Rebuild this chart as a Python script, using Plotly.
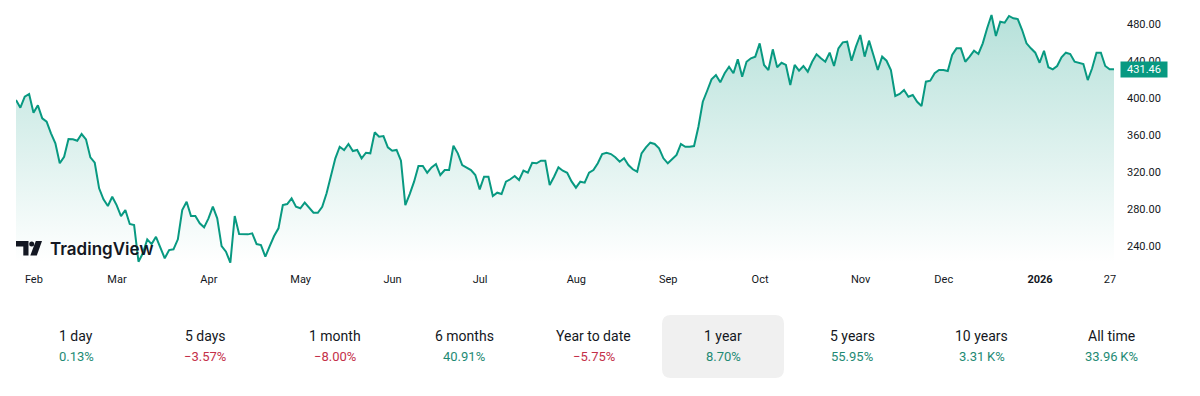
import pandas as pd
import plotly.graph_objects as go

# ---------------- data ----------------
close_jan_mar = [398, 389.8, 401.6, 404.6, 384.3, 392.3, 378.3, 374.6, 362, 351.2,
                 329.6, 336.7, 355.9, 355.5, 354, 361.3, 355.5, 336, 330.2, 302.5,
                 290.6, 283.4, 293.4, 284.4, 272.5, 279, 263.9, 262.8, 223.1, 232.2,
                 247.3, 242.2, 250.1, 237.6, 226.8, 235.7, 236.5, 247.3, 279, 288,
                 272.5, 272.5, 264.6]
close_apr_may = [260.3, 270, 282.6, 270, 240, 233.9, 222, 272.5, 253, 252.7,
                 252.7, 253.8, 242.2, 241.1, 228.5, 240, 250.9, 259.2, 284.4, 285.5,
                 291.7, 282.6, 280.9, 287, 280.9, 276.1, 276.1, 282.6, 297.1, 316.9,
                 335, 347.5, 344, 350.5, 342.9, 344, 335, 341, 340.4, 363.1,
                 358.4, 359.1]
close_jun_jul = [346.9, 343.2, 344, 332.4, 284.4, 296.3, 309.7, 326.7, 326.7, 319.4,
                 325.2, 328.8, 316.9, 322.3, 322.3, 348.6, 340.4, 327.7, 325.2, 322.3,
                 316.9, 301.4, 315.1, 315.1, 294.2, 297.8, 296.3, 309.7, 312.3, 315.8,
                 311.5, 321.6, 319.4, 330.2, 329.6, 332.4, 332.4, 306.1, 315.1, 325.2,
                 321.6, 319.4, 310]
close_aug_sep = [303.2, 309.7, 308.6, 319.4, 322.3, 329.6, 339.6, 341, 339.6, 336.1,
                 331.3, 335, 327.7, 323.1, 320.5, 340.4, 346.9, 351.9, 350.5, 345.8,
                 335, 329.6, 333.9, 338.6, 350.5, 347.5, 347.5, 348.3, 369.2, 396.2,
                 408.1, 420.5, 425.1, 417.2, 427, 434.1, 427, 442.1, 423.3, 439.5,
                 443.2, 445]
close_oct_nov = [459.4, 436, 430.5, 452.9, 433.5, 438.4, 436, 414.3, 436, 429.8,
                 434.9, 428.7, 439.5, 447.5, 443.2, 439.5, 449.3, 434.9, 454, 460.5,
                 461.2, 440.6, 455.8, 468.4, 445, 462.3, 446.8, 430.5, 445, 440.6,
                 430.5, 402.4, 404.6, 408.9, 401.6, 403.5, 396.2, 391.6, 417.9, 419,
                 427]
close_dec_jan = [430.5, 430.5, 429.5, 446.8, 454, 454, 439.5, 445, 451.4, 447.9,
                 459.4, 475.7, 490.1, 467.3, 482.8, 481.7, 489, 486.5, 485.7, 473.8,
                 459.4, 454, 449.3, 438.4, 451.4, 433.5, 431.3, 434.9, 444.3, 449.3,
                 447.9, 439.5, 438.4, 437, 419.7, 432.4, 449.3, 449.3, 434.9, 431.3,
                 431.46]
close = close_jan_mar + close_apr_may + close_jun_jul + close_aug_sep + close_oct_nov + close_dec_jan
last_price = 431.46

market_holidays = ["2025-02-17", "2025-04-18", "2025-05-26", "2025-06-19", "2025-07-04",
                   "2025-09-01", "2025-11-27", "2025-12-25", "2026-01-01", "2026-01-19"]
first_day = "2025-01-27"
last_day = "2026-01-27"

x_tick_labels = ["Feb", "Mar", "Apr", "May", "Jun", "Jul", "Aug", "Sep", "Oct", "Nov", "Dec",
                 "<b>2026</b>", "27"]
y_tick_values = [240, 280, 320, 360, 400, 440, 480]

period_labels = ["1 day", "5 days", "1 month", "6 months", "Year to date",
                 "1 year", "5 years", "10 years", "All time"]
period_changes = ["0.13%", "\u22123.57%", "\u22128.00%", "40.91%", "\u22125.75%",
                  "8.70%", "55.95%", "3.31\u2009K%", "33.96\u2009K%"]
period_up = [True, False, False, True, False, True, True, True, True]
selected_period = "1 year"

# ---------------- build ----------------
dates = pd.bdate_range(first_day, last_day, freq="C", holidays=market_holidays)
x = dates.strftime("%Y-%m-%d").tolist()
s = pd.Series(dates)
month_firsts = s.groupby(s.dt.to_period("M")).first().tolist()[1:]
x_tick_vals = [d.strftime("%Y-%m-%d") for d in month_firsts] + [x[-1]]

GREEN = "#089981"
TEXT = "#131722"
UP_TXT = "#1e8a74"
DN_TXT = "#c43049"
FONT = "Roboto"

W, H = 1200, 396
ML, MR, MT, MB = 16, 86, 0, 133
PW, PH = W - ML - MR, H - MT - MB

def px(v):
    return (v - ML) / PW

def py(v):
    return (MT + PH - v) / PH

y_lo, y_hi = 221.7, 506.3

fig = go.Figure()
fig.add_trace(go.Scatter(
    x=x, y=close, mode="lines",
    line=dict(color=GREEN, width=2),
    fill="tozeroy",
    fillgradient=dict(type="vertical",
                      colorscale=[[0, "rgba(8,153,129,0.0)"], [1, "rgba(8,153,129,0.30)"]],
                      start=y_lo, stop=495),
    hoverinfo="skip", showlegend=False,
))

shapes = []
# TradingView logo mark
shapes.append(dict(type="path", xref="paper", yref="paper", line=dict(width=0), fillcolor=TEXT,
                   path=("M {a},{b} L {c},{b} L {c},{d} L {e},{d} L {e},{f} L {a},{f} Z").format(
                       a=px(16), b=py(241), c=px(28.5), d=py(255.5), e=px(23.3), f=py(246.5))))
shapes.append(dict(type="circle", xref="paper", yref="paper", line=dict(width=0), fillcolor=TEXT,
                   x0=px(29.2), x1=px(34.2), y0=py(246.5), y1=py(241.5)))
shapes.append(dict(type="path", xref="paper", yref="paper", line=dict(width=0), fillcolor=TEXT,
                   path="M {},{} L {},{} L {},{} L {},{} Z".format(
                       px(35.8), py(241), px(42), py(241), px(36.8), py(255.5), px(30.3), py(255.5))))

# selected period box (rounded)
bx0, bx1, by0, by1, r = 662, 784, 315, 378, 9
rx, ry = r / PW, r / PH
X0, X1, Y0, Y1 = px(bx0), px(bx1), py(by0), py(by1)
box_path = (f"M {X0+rx},{Y0} L {X1-rx},{Y0} Q {X1},{Y0} {X1},{Y0-ry} "
            f"L {X1},{Y1+ry} Q {X1},{Y1} {X1-rx},{Y1} L {X0+rx},{Y1} Q {X0},{Y1} {X0},{Y1+ry} "
            f"L {X0},{Y0-ry} Q {X0},{Y0} {X0+rx},{Y0} Z")
shapes.append(dict(type="path", xref="paper", yref="paper", path=box_path,
                   fillcolor="#f0f0f0", line=dict(width=0), layer="below"))

annotations = []
annotations.append(dict(xref="paper", yref="paper", x=px(48), y=py(248.5), xanchor="left",
                        yanchor="middle", text="TradingView", showarrow=False,
                        font=dict(family="Inter", size=17, color=TEXT, weight=600)))
# last price label (drawn over the 440.00 tick, as in the reference)
annotations.append(dict(xref="paper", yref="y", x=1, y=last_price, xanchor="left", yanchor="middle",
                        xshift=6, text=f"{last_price:.2f}", showarrow=False, bgcolor=GREEN,
                        borderpad=2, width=42, height=11,
                        font=dict(family=FONT, size=11, color="white")))
# period performance row
for i, (lab, val, up) in enumerate(zip(period_labels, period_changes, period_up)):
    cx = 76 + i * 129.4
    annotations.append(dict(xref="paper", yref="paper", x=px(cx), y=py(336), xanchor="center",
                            yanchor="middle", text=lab, showarrow=False,
                            font=dict(family=FONT, size=14, color=TEXT)))
    annotations.append(dict(xref="paper", yref="paper", x=px(cx), y=py(356), xanchor="center",
                            yanchor="middle", text=val, showarrow=False,
                            font=dict(family=FONT, size=13, color=UP_TXT if up else DN_TXT)))

fig.update_layout(
    width=W, height=H,
    margin=dict(l=ML, r=MR, t=MT, b=MB),
    paper_bgcolor="white", plot_bgcolor="white",
    shapes=shapes, annotations=annotations,
    xaxis=dict(type="category", range=[0, len(x) - 1], tickmode="array",
               tickvals=x_tick_vals, ticktext=x_tick_labels, showgrid=False,
               zeroline=False, showline=False, ticks="", ticklabelshift=-4,
               ticklabelstandoff=8,
               tickfont=dict(family=FONT, size=11, color=TEXT), fixedrange=True),
    yaxis=dict(side="right", range=[y_lo, y_hi], tickmode="array", tickvals=y_tick_values,
               tickformat=".2f", showgrid=False, zeroline=False, showline=False, ticks="",
               ticklabelstandoff=12,
               tickfont=dict(family=FONT, size=11, color=TEXT), fixedrange=True),
    hovermode=False,
)

fig.write_html("out.html",
               config={"displayModeBar": False, "staticPlot": True},
               post_script="document.body.style.margin='0';document.body.style.overflow='hidden';")
